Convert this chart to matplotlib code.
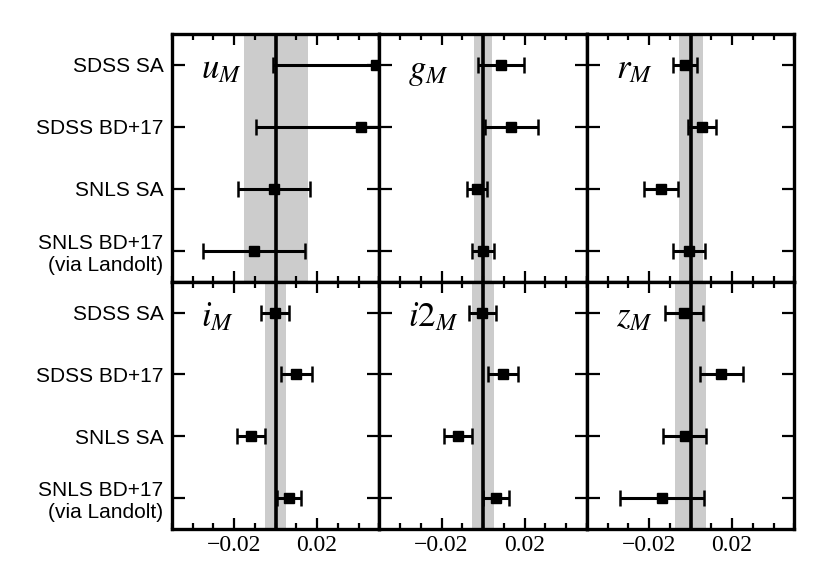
import numpy as np
import matplotlib
matplotlib.use("Agg")
import matplotlib.pyplot as plt
from matplotlib.ticker import FixedLocator, MultipleLocator

plt.rcParams["mathtext.fontset"] = "stix"

surveys = ["SDSS SA", "SDSS BD+17", "SNLS SA", "SNLS BD+17\n(via Landolt)"]
bands = ["u_M", "g_M", "r_M", "i_M", "i2_M", "z_M"]

# offsets for each band, one value per survey (top to bottom)
offset = [
    [0.0485, 0.0413, -0.0008, -0.0104],
    [0.0088, 0.0137, -0.0031, 0.0000],
    [-0.0026, 0.0055, -0.0142, -0.0008],
    [-0.0003, 0.0100, -0.0117, 0.0066],
    [-0.0005, 0.0096, -0.0119, 0.0064],
    [-0.0032, 0.0148, -0.0029, -0.0137],
]
error = [
    [0.0495, 0.0508, 0.0172, 0.0247],
    [0.0110, 0.0126, 0.0048, 0.0055],
    [0.0057, 0.0066, 0.0083, 0.0077],
    [0.0066, 0.0075, 0.0068, 0.0057],
    [0.0065, 0.0074, 0.0068, 0.0062],
    [0.0090, 0.0103, 0.0102, 0.0202],
]
# half width of the grey band
band_width = [0.0154, 0.0044, 0.0058, 0.0050, 0.0051, 0.0076]

xticks = [-0.02, 0.02]
xticklabels = ["\u22120.02", "0.02"]

fig, axes = plt.subplots(2, 3, figsize=(8.3, 5.86), dpi=100, sharex=True, sharey=True)
fig.subplots_adjust(left=0.207, right=0.957, top=0.942, bottom=0.097, wspace=0, hspace=0)

ypos = np.arange(len(surveys))[::-1]

for k, ax in enumerate(axes.flat):
    w = band_width[k]
    ax.axvspan(-w, w, color="#cccccc", lw=0, zorder=1)
    ax.axvline(0, color="black", lw=2.6, zorder=2)
    ax.errorbar(offset[k], ypos, xerr=error[k], fmt="s", color="black",
                ms=7.5, elinewidth=2.2, capsize=6, capthick=1.8, zorder=3)
    ax.text(0.14, 0.82, "$%s$" % bands[k], transform=ax.transAxes,
            fontsize=25, ha="left", va="baseline")

    ax.set_xlim(-0.05, 0.05)
    ax.set_ylim(-0.5, 3.5)
    ax.xaxis.set_major_locator(FixedLocator(xticks))
    ax.xaxis.set_minor_locator(MultipleLocator(0.01))
    ax.set_yticks(ypos)
    ax.tick_params(axis="x", which="major", direction="in", top=True, bottom=True,
                   length=8, width=1.6, pad=4)
    ax.tick_params(axis="x", which="minor", direction="in", top=True, bottom=True,
                   length=4, width=1.6)
    ax.tick_params(axis="y", which="major", direction="in", left=True, right=True,
                   length=9, width=1.6, pad=6)
    for s in ax.spines.values():
        s.set_linewidth(2.4)

for ax in axes[1]:
    ax.set_xticklabels(xticklabels, fontfamily="Liberation Serif", fontsize=17)
for ax in axes[:, 0]:
    ax.set_yticklabels(surveys, fontfamily="Liberation Sans", fontsize=15)

fig.savefig("out.png", dpi=100)
